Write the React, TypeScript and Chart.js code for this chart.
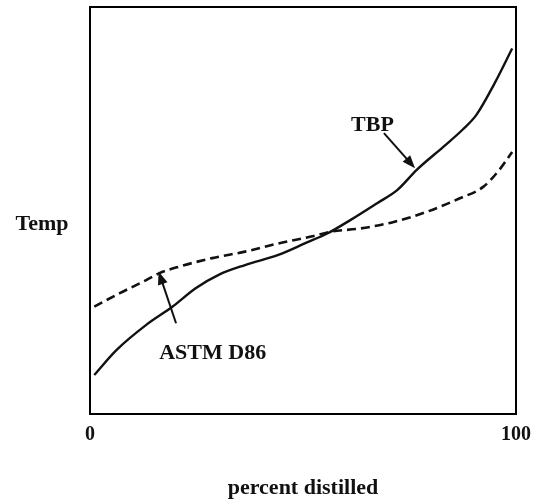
import { useEffect, useRef } from "react";
import { Chart, registerables } from "chart.js";

Chart.register(...registerables);

// True boiling point curve (percent distilled vs. temperature, relative units)
const tbpPercent = [1, 6.2, 13.2, 19.4, 24.8, 30.2, 36.4, 44.2, 50.4, 55.8, 61.2, 67.4, 72.1, 76.7, 83.0, 87.5, 90.7, 95.0, 99.1];
const tbpTemp = [9.6, 15.7, 21.9, 26.4, 30.9, 34.2, 36.6, 39.1, 41.9, 44.4, 47.7, 51.8, 55.0, 60.0, 65.7, 69.9, 73.5, 81.3, 89.8];

// ASTM D86 distillation curve
const d86Percent = [1, 7.0, 13.2, 16.3, 20.9, 28.7, 36.4, 44.2, 51.9, 56.6, 63.6, 71.3, 79.1, 86.8, 92.3, 96.1, 99.1];
const d86Temp = [26.4, 29.7, 32.9, 34.6, 36.2, 38.3, 39.9, 41.9, 43.6, 44.8, 45.6, 47.2, 49.7, 53.0, 55.8, 60.0, 64.4];

const xTickValues = [0, 100];

const SERIF = "'Liberation Serif', 'Times New Roman', serif";

function drawArrow(ctx: CanvasRenderingContext2D, x1: number, y1: number, x2: number, y2: number) {
  const ang = Math.atan2(y2 - y1, x2 - x1);
  const head = 13;
  const half = 5;
  const c = Math.cos(ang);
  const s = Math.sin(ang);
  ctx.beginPath();
  ctx.moveTo(x1, y1);
  ctx.lineTo(x2 - head * 0.7 * c, y2 - head * 0.7 * s);
  ctx.stroke();
  ctx.beginPath();
  ctx.moveTo(x2, y2);
  ctx.lineTo(x2 - head * c + half * s, y2 - head * s - half * c);
  ctx.lineTo(x2 - head * c - half * s, y2 - head * s + half * c);
  ctx.closePath();
  ctx.fill();
}

const annotations = {
  id: "annotations",
  afterDatasetsDraw(chart: any) {
    const { ctx, chartArea: a, scales } = chart;
    const x = scales.x;
    const y = scales.y;
    ctx.save();
    // plot frame
    ctx.strokeStyle = "#000";
    ctx.lineWidth = 2;
    ctx.setLineDash([]);
    ctx.strokeRect(a.left, a.top, a.right - a.left, a.bottom - a.top);

    ctx.fillStyle = "#111";
    ctx.font = `bold 22px ${SERIF}`;
    ctx.textAlign = "center";
    ctx.textBaseline = "alphabetic";
    ctx.fillText("Temp", a.left - 48, a.top + 223);
    ctx.fillText("TBP", x.getPixelForValue(66.3), y.getPixelForValue(69.5));
    ctx.fillText("ASTM D86", x.getPixelForValue(28.8), y.getPixelForValue(13.5));

    ctx.strokeStyle = "#111";
    ctx.lineWidth = 2;
    drawArrow(ctx, x.getPixelForValue(69.0), y.getPixelForValue(69.0), x.getPixelForValue(76.3), y.getPixelForValue(60.4));
    drawArrow(ctx, x.getPixelForValue(20.2), y.getPixelForValue(22.3), x.getPixelForValue(16.1), y.getPixelForValue(35.0));
    ctx.restore();
  },
};

export default function App() {
  const canvasRef = useRef<HTMLCanvasElement | null>(null);

  useEffect(() => {
    const canvas = canvasRef.current;
    if (!canvas) return;
    const chart = new Chart(canvas, {
      type: "line",
      data: {
        datasets: [
          {
            label: "TBP",
            data: tbpPercent.map((p, i) => ({ x: p, y: tbpTemp[i] })),
            borderColor: "#111",
            borderWidth: 2.4,
            pointRadius: 0,
            cubicInterpolationMode: "monotone",
            fill: false,
          },
          {
            label: "ASTM D86",
            data: d86Percent.map((p, i) => ({ x: p, y: d86Temp[i] })),
            borderColor: "#111",
            borderWidth: 2.6,
            borderDash: [9, 5],
            pointRadius: 0,
            cubicInterpolationMode: "monotone",
            fill: false,
          },
        ],
      },
      options: {
        animation: false,
        responsive: false,
        layout: { padding: { left: 90, right: 20, top: 7, bottom: 0 } },
        plugins: {
          legend: { display: false },
          tooltip: { enabled: false },
        },
        scales: {
          x: {
            type: "linear",
            min: 0,
            max: 100,
            afterBuildTicks: (scale: any) => {
              scale.ticks = xTickValues.map((v) => ({ value: v }));
            },
            afterFit: (scale: any) => {
              scale.height = 90;
            },
            grid: { display: false, drawTicks: false },
            border: { display: false },
            ticks: {
              color: "#111",
              padding: 9,
              font: { family: SERIF, size: 20, weight: "bold" },
            },
            title: {
              display: true,
              text: "percent distilled",
              color: "#111",
              font: { family: SERIF, size: 22, weight: "bold" },
              padding: { top: 0, bottom: 2 },
            },
          },
          y: {
            type: "linear",
            display: false,
            min: 0,
            max: 100,
          },
        },
      },
      plugins: [annotations],
    } as any);
    return () => chart.destroy();
  }, []);

  return (
    <div style={{ position: "fixed", left: 0, top: 0, width: 540, height: 504, background: "#fff" }}>
      <canvas ref={canvasRef} width={540} height={504} />
    </div>
  );
}
